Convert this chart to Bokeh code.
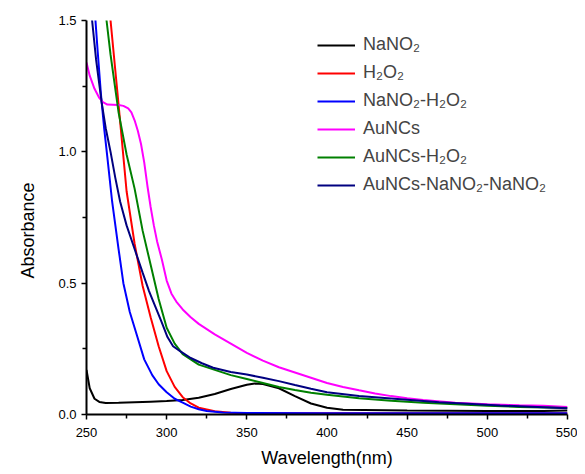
from bokeh.plotting import figure
from bokeh.models import Legend, LegendItem, FixedTicker, PrintfTickFormatter, Range1d, Title
from bokeh.embed import file_html
from bokeh.resources import INLINE

# ---- data ----
names = ["NaNO₂", "H₂O₂", "NaNO₂-H₂O₂", "AuNCs", "AuNCs-H₂O₂", "AuNCs-NaNO₂-NaNO₂"]
colors = ["#000000", "#ff0000", "#0000ff", "#ff00ff", "#008000", "#000080"]

wl_nano2 = [250, 252, 255, 258, 262, 270, 280, 290, 300, 310, 320, 330, 340, 350, 355, 360, 370, 380, 390, 400, 410, 450, 500, 535, 550]
ab_nano2 = [0.17, 0.10, 0.06, 0.048, 0.044, 0.045, 0.047, 0.049, 0.051, 0.055, 0.064, 0.078, 0.097, 0.113, 0.118, 0.116, 0.10, 0.07, 0.042, 0.026, 0.018, 0.015, 0.013, 0.013, 0.015]

wl_h2o2 = [260, 262, 265, 270, 275, 280, 285, 290, 295, 300, 305, 310, 315, 320, 330, 340, 350, 400, 550]
ab_h2o2 = [1.85, 1.72, 1.5, 1.18, 0.85, 0.65, 0.49, 0.37, 0.26, 0.165, 0.105, 0.066, 0.042, 0.026, 0.012, 0.007, 0.005, 0.005, 0.005]

wl_mix = [253, 255, 257, 259, 261, 263, 266, 270, 273, 277, 282, 286, 291, 295, 300, 305, 310, 315, 320, 325, 335, 350, 400, 550]
ab_mix = [1.72, 1.55, 1.38, 1.22, 1.09, 0.98, 0.81, 0.63, 0.50, 0.39, 0.29, 0.21, 0.15, 0.115, 0.085, 0.06, 0.045, 0.03, 0.02, 0.013, 0.008, 0.006, 0.005, 0.005]

wl_au = [250, 252, 255, 258, 260, 263, 270, 273, 276, 278, 280, 282, 284, 286, 288, 290, 292, 294, 297, 300, 303, 306, 310, 315, 320, 330, 340, 350, 360, 370, 380, 390, 400, 410, 420, 430, 440, 450, 460, 480, 500, 520, 535, 550]
ab_au = [1.34, 1.29, 1.24, 1.205, 1.19, 1.18, 1.178, 1.175, 1.165, 1.15, 1.12, 1.08, 1.03, 0.96, 0.87, 0.79, 0.72, 0.66, 0.59, 0.51, 0.46, 0.43, 0.40, 0.37, 0.345, 0.305, 0.27, 0.235, 0.205, 0.18, 0.16, 0.14, 0.12, 0.105, 0.092, 0.08, 0.07, 0.062, 0.055, 0.045, 0.039, 0.035, 0.033, 0.029]

wl_au_h2o2 = [255, 260, 262.5, 265, 270, 275, 280, 285, 290, 295, 300, 305, 310, 320, 330, 340, 350, 360, 370, 380, 390, 400, 420, 440, 460, 480, 500, 520, 550]
ab_au_h2o2 = [2.0, 1.65, 1.5, 1.37, 1.15, 0.99, 0.86, 0.70, 0.57, 0.44, 0.33, 0.27, 0.23, 0.19, 0.17, 0.15, 0.135, 0.12, 0.105, 0.093, 0.083, 0.075, 0.062, 0.052, 0.045, 0.039, 0.033, 0.029, 0.025]

wl_au_mix = [251, 253.5, 256, 259.4, 262, 265, 268, 271, 275, 280, 285, 289, 293, 297, 300.5, 304, 308.6, 315, 322, 329, 340, 350, 360, 370, 380, 390, 400, 420, 446, 470, 508, 535, 550]
ab_au_mix = [1.72, 1.5, 1.35, 1.19, 1.09, 1.0, 0.9, 0.81, 0.72, 0.63, 0.54, 0.47, 0.41, 0.35, 0.295, 0.26, 0.24, 0.215, 0.195, 0.178, 0.162, 0.152, 0.14, 0.127, 0.112, 0.098, 0.085, 0.07, 0.058, 0.047, 0.034, 0.028, 0.024]

series_x = [wl_nano2, wl_h2o2, wl_mix, wl_au, wl_au_h2o2, wl_au_mix]
series_y = [ab_nano2, ab_h2o2, ab_mix, ab_au, ab_au_h2o2, ab_au_mix]

x_ticks = [250, 300, 350, 400, 450, 500, 550]
x_minor = [275, 325, 375, 425, 475, 525]
y_ticks = [0.0, 0.5, 1.0, 1.5]
y_minor = [0.25, 0.75, 1.25]

FONT = "Liberation Sans"

p = figure(frame_width=481, frame_height=394, output_backend="svg", toolbar_location=None,
           x_range=Range1d(250, 550), y_range=Range1d(0, 1.5),
           min_border_left=86, min_border_right=10, min_border_top=20, min_border_bottom=52)
p.outline_line_color = None
p.xgrid.visible = False
p.ygrid.visible = False

renderers = []
for xs, ys, c in zip(series_x, series_y, colors):
    r = p.line(xs, ys, line_color=c, line_width=2)
    renderers.append(r)

for ax in (p.xaxis[0], p.yaxis[0]):
    ax.axis_line_width = 2
    ax.axis_line_color = "black"
    ax.major_tick_line_width = 1.5
    ax.minor_tick_line_width = 1.5
    ax.major_tick_out = 5
    ax.major_tick_in = 0
    ax.minor_tick_out = 4
    ax.minor_tick_in = 0
    ax.major_label_text_font = FONT
    ax.major_label_text_font_size = "13px"
    ax.major_label_text_color = "black"
    ax.axis_label_text_font = FONT
    ax.axis_label_text_font_size = "18px"
    ax.axis_label_text_font_style = "normal"
    ax.axis_label_text_color = "black"

p.xaxis.ticker = FixedTicker(ticks=x_ticks, minor_ticks=x_minor)
p.yaxis.ticker = FixedTicker(ticks=y_ticks, minor_ticks=y_minor)
p.yaxis.formatter = PrintfTickFormatter(format="%.1f")
p.xaxis.axis_label = "Wavelength(nm)"
p.xaxis.major_label_standoff = 8
p.yaxis.major_label_standoff = 5
p.xaxis.axis_label_standoff = 8

ytitle = Title(text="Absorbance", align="left", offset=136, vertical_align="top", standoff=32,
               text_font=FONT, text_font_size="18px", text_font_style="normal", text_color="black")
p.add_layout(ytitle, "left")

legend = Legend(items=[LegendItem(label=n, renderers=[r]) for n, r in zip(names, renderers)],
                location=(231, 219), border_line_alpha=0, background_fill_alpha=0,
                padding=0, margin=0, spacing=7, glyph_width=38, glyph_height=20,
                label_height=20, label_standoff=8,
                label_text_font=FONT, label_text_font_size="18px")
p.add_layout(legend, "center")

open("out.html", "w").write(file_html(p, INLINE))
